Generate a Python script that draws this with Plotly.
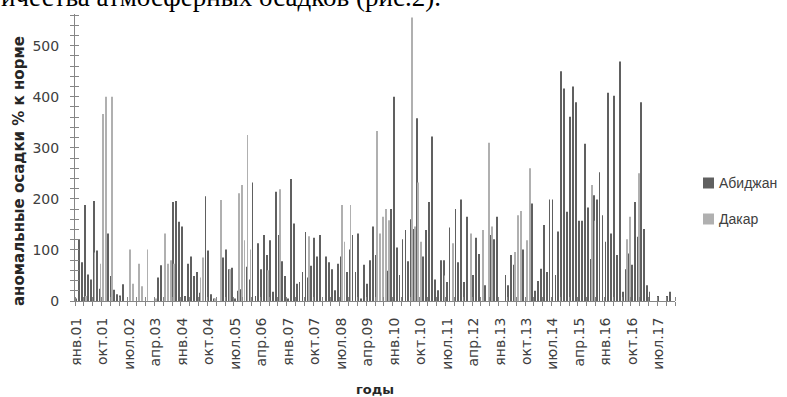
import plotly.graph_objects as go

months = ["янв", "фев", "мар", "апр", "май", "июн", "июл", "авг", "сен", "окт", "ноя", "дек"]
years = list(range(1, 18))

# аномальные осадки, % к норме, помесячно янв.01 - дек.17
abidjan = [
    5, 121, 76, 188, 52, 42, 196, 99, 24, 73, 8, 132,
    49, 22, 13, 11, 33, 0, 0, 0, 0, 0, 0, 0,
    0, 0, 0, 0, 46, 70, 0, 0, 0, 194, 196, 155,
    146, 10, 73, 87, 49, 57, 16, 0, 205, 99, 13, 5,
    0, 0, 85, 101, 62, 65, 5, 20, 23, 0, 67, 42,
    232, 10, 113, 62, 129, 90, 119, 18, 214, 129, 78, 49,
    5, 239, 152, 34, 37, 57, 135, 46, 69, 124, 87, 129,
    0, 87, 76, 62, 21, 73, 87, 0, 57, 101, 129, 57,
    132, 5, 71, 34, 80, 146, 90, 0, 0, 0, 59, 180,
    400, 105, 51, 121, 139, 78, 160, 141, 358, 0, 87, 139,
    194, 322, 42, 21, 80, 80, 37, 144, 58, 180, 76, 199,
    37, 165, 0, 51, 124, 92, 0, 31, 0, 129, 121, 165,
    0, 0, 51, 31, 90, 71, 0, 0, 101, 0, 0, 191,
    20, 39, 63, 149, 57, 199, 199, 51, 136, 450, 416, 175,
    361, 420, 389, 157, 157, 308, 183, 82, 207, 199, 252, 168,
    116, 408, 132, 402, 90, 469, 18, 62, 93, 71, 194, 126,
    389, 141, 31, 18, 0, 0, 10, 0, 0, 10, 18, 0,
]
dakar = [
    0, 0, 0, 10, 0, 0, 95, 0, 73, 366, 400, 0,
    400, 0, 0, 0, 0, 0, 101, 34, 0, 73, 29, 0,
    101, 0, 0, 5, 0, 0, 132, 73, 80, 73, 0, 0,
    0, 0, 0, 0, 0, 0, 46, 85, 0, 0, 0, 5,
    0, 198, 0, 0, 62, 0, 0, 211, 227, 119, 325, 101,
    0, 0, 0, 0, 0, 60, 0, 0, 0, 219, 0, 0,
    0, 0, 0, 0, 0, 0, 0, 127, 0, 0, 0, 0,
    0, 0, 0, 0, 0, 0, 188, 116, 0, 188, 0, 0,
    0, 0, 0, 0, 0, 0, 333, 132, 165, 180, 158, 0,
    0, 0, 0, 0, 0, 0, 555, 146, 232, 116, 0, 0,
    0, 0, 0, 0, 0, 50, 0, 0, 113, 0, 0, 0,
    0, 0, 132, 0, 0, 0, 139, 0, 310, 146, 0, 0,
    0, 0, 0, 0, 0, 96, 168, 176, 0, 119, 260, 0,
    0, 0, 0, 0, 0, 0, 0, 0, 0, 0, 0, 0,
    0, 0, 0, 0, 0, 0, 0, 227, 157, 0, 0, 0,
    0, 0, 0, 0, 0, 0, 0, 121, 165, 0, 0, 250,
    0, 0, 0, 0, 0, 0, 0, 0, 0, 0, 0, 0,
]

labels = [f"{m}.{y:02d}" for y in years for m in months]
x_idx = list(range(len(labels)))
tick_idx = x_idx[::9]
tick_text = [labels[i] for i in tick_idx]
y_ticks = [0, 100, 200, 300, 400, 500]

c_abj = "#606060"
c_dak = "#b0b0b0"
axis_col = "#868686"
x_range = [-0.5, len(labels) - 0.5]
y_range = [0, 562]

# plot area in pixels: x 75..675, y 14..301
def px_x(px):
    return (px - 75) / 600

def px_y(py):
    return (301 - py) / 287

fig = go.Figure()
fig.add_trace(go.Bar(x=x_idx, y=abidjan, name="Абиджан", marker_color=c_abj,
                     marker_line_width=0, showlegend=False))
fig.add_trace(go.Bar(x=x_idx, y=dakar, name="Дакар", marker_color=c_dak,
                     marker_line_width=0, showlegend=False))
# пустой след для второй пары осей (засечки внутрь)
fig.add_trace(go.Scatter(x=[None], y=[None], xaxis="x2", yaxis="y2",
                         showlegend=False, hoverinfo="skip"))

fig.update_layout(
    width=787, height=397,
    margin=dict(l=75, r=112, t=14, b=96),
    plot_bgcolor="white", paper_bgcolor="white",
    barmode="group", bargap=0.4, bargroupgap=0,
    font=dict(family="DejaVu Sans", size=14, color="#404040"),
    xaxis=dict(range=x_range, tickmode="array", tickvals=tick_idx, ticktext=tick_text,
               tickangle=-90, ticks="", showline=True, linecolor=axis_col, linewidth=1,
               showgrid=False, zeroline=False, ticklabelstandoff=10,
               minor=dict(tickmode="linear", tick0=-0.5, dtick=3, ticks="outside",
                          ticklen=4, tickcolor=axis_col, tickwidth=1)),
    yaxis=dict(range=y_range, tickmode="array", tickvals=y_ticks, ticks="outside",
               ticklen=4, tickcolor=axis_col, showline=True, linecolor=axis_col,
               linewidth=1, showgrid=False, zeroline=False, ticklabelstandoff=8,
               minor=dict(tickmode="linear", tick0=0, dtick=20, ticks="outside",
                          ticklen=4, tickcolor=axis_col, tickwidth=1)),
    xaxis2=dict(overlaying="x", anchor="y", range=x_range, showline=False,
                showgrid=False, zeroline=False, showticklabels=False, ticks="",
                minor=dict(tickmode="linear", tick0=-0.5, dtick=3, ticks="inside",
                           ticklen=4, tickcolor=axis_col, tickwidth=1)),
    yaxis2=dict(overlaying="y", anchor="x", side="left", range=y_range, showline=False,
                showgrid=False, zeroline=False, showticklabels=False,
                tickmode="array", tickvals=y_ticks, ticks="inside", ticklen=4,
                tickcolor=axis_col,
                minor=dict(tickmode="linear", tick0=0, dtick=20, ticks="inside",
                           ticklen=4, tickcolor=axis_col, tickwidth=1)),
)

# обрезанная строка текста документа сверху
fig.add_annotation(text="ичества атмосферных осадков (рис.2).", xref="paper", yref="paper",
                   x=px_x(-1), y=px_y(-3), xanchor="left", yanchor="middle", showarrow=False,
                   font=dict(family="Liberation Serif", size=27, color="black"))
fig.add_annotation(text="<b>аномальные осадки % к норме</b>", xref="paper", yref="paper",
                   x=px_x(19), y=px_y(171), xanchor="center", yanchor="middle",
                   textangle=-90, showarrow=False,
                   font=dict(family="DejaVu Sans", size=15, color="#262626"))
fig.add_annotation(text="<b>годы</b>", xref="paper", yref="paper",
                   x=px_x(375), y=px_y(389), xanchor="center", yanchor="middle",
                   showarrow=False,
                   font=dict(family="DejaVu Sans", size=13, color="#262626"))

# легенда
for name, col, cy in [("Абиджан", c_abj, 183), ("Дакар", c_dak, 219)]:
    fig.add_shape(type="rect", xref="paper", yref="paper",
                  x0=px_x(703), x1=px_x(714), y0=px_y(cy - 5.5), y1=px_y(cy + 5.5),
                  fillcolor=col, line_width=0)
    fig.add_annotation(text=name, xref="paper", yref="paper", x=px_x(717), y=px_y(cy),
                       xanchor="left", yanchor="middle", showarrow=False,
                       font=dict(family="Liberation Sans", size=14, color="#404040"))

# убрать стандартный отступ body, чтобы рисунок начинался с (0, 0)
fig.write_html("out.html", config={"displayModeBar": False},
               post_script="document.body.style.margin = '0';")
